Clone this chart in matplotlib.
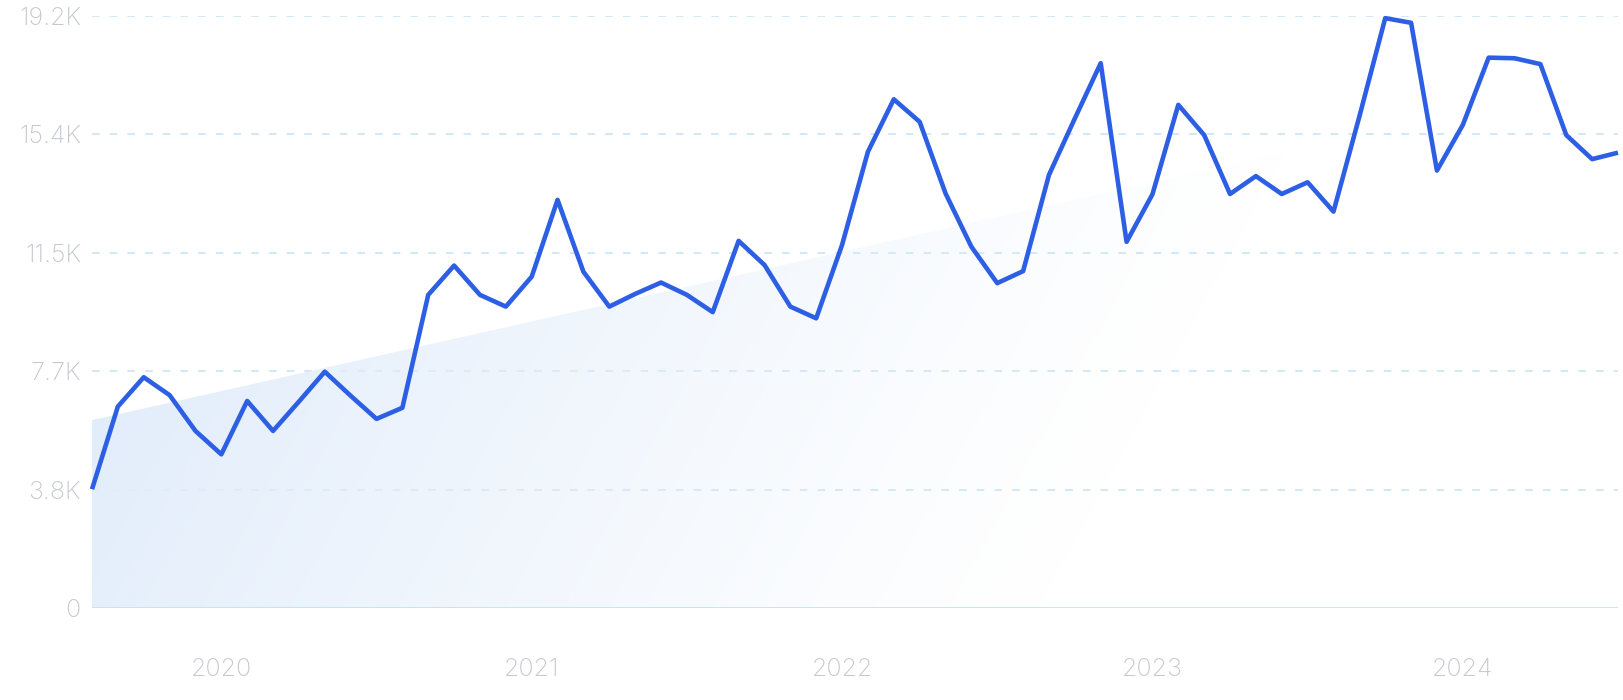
import numpy as np
import matplotlib.pyplot as plt

# monthly values, Aug 2019 .. Jul 2024
months = [f"{y}-{m:02d}" for y in range(2019, 2025) for m in range(1, 13)]
months = months[7:67]
values = [3860, 6540, 7490, 6910, 5750, 4990, 6720, 5750, 6700, 7670, 6890, 6140,
          6500, 10160, 11110, 10160, 9780, 10750, 13240, 10910, 9780, 10190, 10560, 10160,
          9600, 11910, 11130, 9780, 9400, 11780, 14800, 16500, 15770, 13450, 11720, 10540,
          10930, 14050, 15880, 17670, 11880, 13420, 16320, 15340, 13430, 14010, 13430, 13810,
          12860, 15940, 19130, 18980, 14190, 15670, 17850, 17830, 17640, 15340, 14560, 14770]

# trend band (start / end value)
trend_start = 6100
trend_end = 17200

yticks = [0, 3840, 7680, 11520, 15360, 19200]
ytick_labels = ["0", "3.8K", "7.7K", "11.5K", "15.4K", "19.2K"]
year_labels = [m[:4] for m in months if m.endswith("-01")]
year_pos = [i for i, m in enumerate(months) if m.endswith("-01")]

line_color = "#2d5fe4"
grid_color = "#cfe6f7"
label_color = "#c6c8d0"
font = "Inter"

fig = plt.figure(figsize=(16.24, 7), dpi=100)
ax = fig.add_axes([92 / 1624, (700 - 608.3) / 700, (1618 - 92) / 1624, (608.3 - 16) / 700])

x = np.arange(len(values))
ax.set_xlim(0, len(values) - 1)
ax.set_ylim(0, 19200)

# gradient filled trend area
trend = np.linspace(trend_start, trend_end, len(values))
poly = ax.fill_between(x, 0, trend, facecolor="none", edgecolor="none")
gx = np.linspace(0, len(values) - 1, 700)
gy = np.linspace(0, 19200, 350)
GX, GY = np.meshgrid(gx, gy)
pts = ax.transData.transform(np.column_stack([GX.ravel(), GY.ravel()]))
ref = ax.transData.transform([[0, trend_start]])[0]
dvec = np.array([0.878, -0.477])
d = ((pts - ref) @ dvec).reshape(GX.shape)
alpha = np.clip(1 - d / 930.0, 0, 1) ** 1.2
img = np.zeros(GX.shape + (4,))
img[..., 0] = 226 / 255
img[..., 1] = 237 / 255
img[..., 2] = 251 / 255
img[..., 3] = alpha
im = ax.imshow(img, origin="lower", extent=[0, len(values) - 1, 0, 19200],
               aspect="auto", interpolation="bilinear", zorder=1)
im.set_clip_path(poly.get_paths()[0], ax.transData)

# grid
for t in yticks[1:]:
    ax.axhline(t, color=grid_color, lw=1.3, dashes=[4.2, 5.6], zorder=0.5)
ax.axhline(0, color="#c6e2f6", lw=1.3, zorder=2)

ax.plot(x, values, color=line_color, lw=3.3, solid_joinstyle="round",
        solid_capstyle="butt", zorder=3, clip_on=False)

for s in ax.spines.values():
    s.set_visible(False)
ax.set_yticks(yticks)
ax.set_yticklabels(ytick_labels)
ax.set_xticks(year_pos)
ax.set_xticklabels(year_labels)
ax.tick_params(axis="both", length=0, labelcolor=label_color, labelsize=18)
ax.tick_params(axis="y", pad=8)
ax.tick_params(axis="x", pad=36)
for lbl in ax.get_xticklabels() + ax.get_yticklabels():
    lbl.set_family(font)
    lbl.set_fontweight("light")

fig.savefig("out.png", dpi=100, facecolor="white")
